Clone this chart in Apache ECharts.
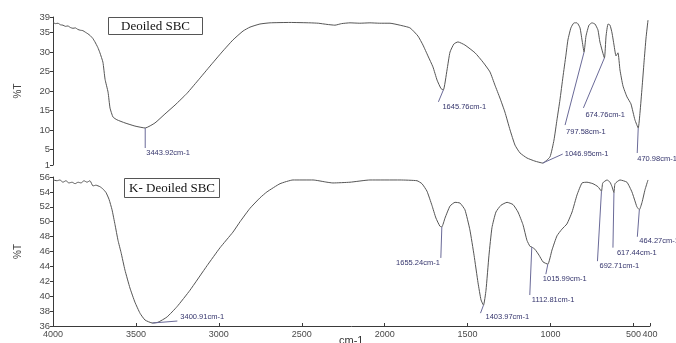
<!DOCTYPE html>
<html>
<head>
<meta charset="utf-8">
<script src="https://cdn.jsdelivr.net/npm/echarts@6/dist/echarts.min.js"></script>
<style>
  html, body { margin: 0; padding: 0; background: #fff; }
  #chart { width: 676px; height: 343px; }
</style>
</head>
<body>
<div id="chart"></div>
<script>
// Wavenumber axis ticks (cm-1) and transmittance ticks (%T)
const xTicks = [4000, 3500, 3000, 2500, 2000, 1500, 1000, 500, 400];
const deoiledTicks = [1, 5, 10, 15, 20, 25, 30, 35, 39];
const kDeoiledTicks = [36, 38, 40, 42, 44, 46, 48, 50, 52, 54, 56];

// FTIR spectrum of Deoiled SBC: [wavenumber, %T]
const deoiledSpectrum = [
  [4000, 37.6], [3985, 37.3], [3970, 37.4], [3955, 37.0], [3940, 36.9], [3925, 36.6],
  [3910, 36.7], [3895, 36.3], [3880, 36.1], [3865, 36.2], [3850, 35.8], [3835, 35.6],
  [3820, 35.5], [3805, 35.1], [3790, 34.7], [3775, 34.2], [3760, 33.5], [3747, 32.6],
  [3730, 31.2], [3717, 29.8], [3699, 27.4], [3686, 23.0], [3668, 19.7], [3656, 15.6],
  [3638, 13.3], [3614, 12.6], [3566, 11.8], [3506, 11.0], [3443.92, 10.5], [3385, 11.8],
  [3325, 14.1], [3264, 16.4], [3192, 19.4], [3114, 23.3], [3053, 26.4], [2981, 30.0],
  [2915, 33.1], [2854, 35.4], [2812, 36.4], [2752, 37.2], [2691, 37.5], [2571, 37.6],
  [2450, 37.5], [2400, 37.4], [2348, 37.1], [2300, 36.9], [2260, 37.3], [2209, 37.5],
  [2150, 37.4], [2089, 37.5], [2030, 37.4], [1968, 37.4], [1908, 36.9], [1847, 36.2],
  [1799, 34.1], [1769, 31.8], [1739, 29.0], [1709, 26.2], [1684, 22.8], [1660, 20.6],
  [1645.76, 20.3], [1624, 25.4], [1606, 30.0], [1582, 32.1], [1558, 32.6], [1516, 31.8],
  [1455, 29.8], [1407, 27.4], [1365, 24.9], [1335, 21.5], [1305, 18.2], [1275, 14.6],
  [1244, 10.0], [1214, 6.1], [1184, 4.1], [1142, 2.8], [1094, 2.0], [1046.95, 1.5],
  [1003, 3.1], [979, 7.4], [961, 12.6], [943, 17.7], [925, 23.6], [907, 29.2],
  [895, 33.1], [877, 36.2], [858, 37.5], [840, 37.5], [822, 36.2], [810, 33.1],
  [797.58, 30.0], [786, 34.1], [768, 36.9], [750, 37.5], [732, 37.2], [714, 35.7],
  [702, 32.6], [674.76, 28.5], [665, 34.1], [653, 37.2], [641, 36.9], [629, 34.9],
  [617, 31.8], [605, 29.0], [593, 29.8], [581, 25.4], [563, 21.3], [539, 18.5],
  [515, 16.7], [491, 12.6], [470.98, 10.5], [460, 14.6], [448, 20.8], [436, 27.4],
  [424, 33.6], [412, 38.2]
];

// FTIR spectrum of K- Deoiled SBC: [wavenumber, %T]
const kDeoiledSpectrum = [
  [4000, 55.6], [3976, 55.5], [3958, 55.6], [3940, 55.3], [3922, 55.5], [3904, 55.2],
  [3885, 55.3], [3867, 55.1], [3849, 55.3], [3831, 55.2], [3813, 55.5], [3795, 55.3],
  [3777, 55.5], [3759, 54.8], [3741, 54.9], [3717, 54.7], [3699, 54.4], [3680, 53.9],
  [3662, 53.0], [3644, 51.6], [3626, 49.6], [3608, 47.5], [3590, 45.9], [3566, 43.5],
  [3536, 41.1], [3506, 39.2], [3475, 37.7], [3445, 36.8], [3400.91, 36.4], [3367, 36.5],
  [3313, 37.2], [3252, 38.6], [3174, 40.8], [3071, 44.1], [2993, 46.5], [2915, 48.6],
  [2872, 50.0], [2812, 51.8], [2752, 53.2], [2710, 54.0], [2631, 55.1], [2553, 55.6],
  [2432, 55.6], [2348, 55.3], [2312, 55.2], [2209, 55.3], [2089, 55.6], [1908, 55.6],
  [1805, 55.5], [1775, 55.1], [1745, 54.1], [1715, 52.2], [1691, 50.5], [1667, 49.4],
  [1655.24, 49.3], [1636, 50.5], [1606, 52.1], [1576, 52.6], [1546, 52.5], [1516, 51.6],
  [1486, 48.9], [1461, 45.5], [1437, 41.8], [1419, 39.5], [1403.97, 38.8], [1389, 40.8],
  [1371, 45.5], [1353, 49.2], [1329, 51.3], [1299, 52.2], [1262, 52.6], [1226, 52.3],
  [1196, 51.3], [1166, 49.6], [1142, 47.5], [1124, 46.7], [1112.81, 46.6], [1094, 46.3],
  [1069, 45.5], [1045, 44.6], [1015.99, 44.3], [991, 46.2], [961, 48.1], [931, 49.0],
  [901, 49.7], [870, 51.3], [840, 53.6], [810, 55.2], [780, 55.3], [744, 55.1],
  [714, 54.7], [692.71, 54.1], [685, 55.2], [659, 55.6], [641, 55.3], [629, 54.7],
  [617.44, 53.9], [611, 55.1], [581, 55.6], [539, 55.3], [509, 54.0], [491, 52.8],
  [479, 52.0], [464.27, 51.6], [448, 52.6], [430, 54.3], [412, 55.6]
];

// Labelled absorption bands (cm-1)
const deoiledPeaks = [3443.92, 1645.76, 1046.95, 797.58, 674.76, 470.98];
const kDeoiledPeaks = [3400.91, 1655.24, 1403.97, 1112.81, 1015.99, 692.71, 617.44, 464.27];

// Leader line offsets (px) from each band minimum and label offsets from the leader end
const deoiledLeaders = [
  { d: [0, 20], t: [1, 5], align: 'left' },
  { d: [-5, 12], t: [4, 5], align: 'left' },
  { d: [20, -9], t: [2, 0], align: 'left' },
  { d: [-19, 73], t: [1, 7], align: 'left' },
  { d: [-21, 50], t: [2, 7], align: 'left' },
  { d: [-1, 25], t: [0, 6], align: 'left' }
];
const kDeoiledLeaders = [
  { d: [25, -2], t: [3, -4], align: 'left' },
  { d: [-1, 31], t: [-1, 5], align: 'right' },
  { d: [-3, 8], t: [5, 4], align: 'left' },
  { d: [-2, 48], t: [2, 5], align: 'left' },
  { d: [-2, 10], t: [-3, 5], align: 'left' },
  { d: [-4, 70], t: [2, 5], align: 'left' },
  { d: [-1, 55], t: [4, 5], align: 'left' },
  { d: [-2, 27], t: [2, 4], align: 'left' }
];

const LINE = '#555555';
const AXIS = '#3a3a3a';
const TICK_TEXT = '#4a4a4a';
const SANS = '"Liberation Sans", Arial, sans-serif';
const SERIF = '"Liberation Serif", "Times New Roman", serif';

function bandValue(spectrum, wn) {
  const hit = spectrum.find(p => p[0] === wn);
  return hit ? hit[1] : null;
}

function xAxisFor(gridIndex, visible) {
  return {
    type: 'value', gridIndex, min: 400, max: 4000, inverse: true,
    show: visible,
    axisLine: { show: visible, lineStyle: { color: AXIS, width: 1 } },
    axisTick: { show: visible, inside: true, length: 3, customValues: xTicks, lineStyle: { color: AXIS } },
    axisLabel: { show: visible, customValues: xTicks, margin: 4, fontFamily: SANS, fontSize: 9,
                 color: TICK_TEXT, formatter: v => String(v) },
    splitLine: { show: false }
  };
}

function yAxisFor(gridIndex, min, max, ticks) {
  return {
    type: 'value', gridIndex, min, max,
    name: '%T', nameLocation: 'middle', nameGap: 30, nameRotate: 90,
    nameTextStyle: { fontFamily: SANS, fontSize: 10, color: '#444' },
    axisLine: { show: true, lineStyle: { color: AXIS, width: 1 } },
    axisTick: { show: true, length: 3, customValues: ticks, lineStyle: { color: AXIS } },
    axisLabel: { customValues: ticks, margin: 3, fontFamily: SANS, fontSize: 9.5, color: TICK_TEXT,
                 formatter: v => String(v) },
    splitLine: { show: false }
  };
}

function spectrumSeries(spectrum, idx) {
  return {
    type: 'line', xAxisIndex: idx, yAxisIndex: idx,
    data: spectrum, showSymbol: false, smooth: 0.15, silent: true,
    lineStyle: { color: LINE, width: 1 }
  };
}

function bandLabels(peaks, spectrum, layout, idx) {
  return {
    type: 'custom', xAxisIndex: idx, yAxisIndex: idx, clip: false, silent: true, z: 5,
    data: peaks.map(w => [w, bandValue(spectrum, w)]),
    renderItem(params, api) {
      const p = api.coord([api.value(0), api.value(1)]);
      const L = layout[params.dataIndex];
      const e = [p[0] + L.d[0], p[1] + L.d[1]];
      return {
        type: 'group',
        children: [
          { type: 'line', shape: { x1: p[0], y1: p[1], x2: e[0], y2: e[1] },
            style: { stroke: '#6a6a98', lineWidth: 1 } },
          { type: 'text', x: e[0] + L.t[0], y: e[1] + L.t[1],
            style: { text: api.value(0).toFixed(2) + 'cm-1', fill: '#34346c',
                     font: '7.5px ' + SANS, align: L.align, verticalAlign: 'middle' } }
        ]
      };
    }
  };
}

function sampleBox(left, top, width, height, text) {
  return {
    type: 'group', left, top,
    children: [
      { type: 'rect', shape: { x: 0, y: 0, width, height },
        style: { fill: '#fff', stroke: '#555', lineWidth: 1 } },
      { type: 'text', x: width / 2, y: height / 2 + 0.5,
        style: { text, fill: '#111', font: '13px ' + SERIF, align: 'center', verticalAlign: 'middle' } }
    ]
  };
}

const chart = echarts.init(document.getElementById('chart'), null, { renderer: 'canvas' });
chart.setOption({
  animation: false,
  backgroundColor: '#fff',
  grid: [
    { left: 53, top: 17, width: 597, height: 148, outerBoundsMode: 'none', containLabel: false },
    { left: 53, top: 177, width: 597, height: 149, outerBoundsMode: 'none', containLabel: false }
  ],
  xAxis: [xAxisFor(0, false), xAxisFor(1, true)],
  yAxis: [yAxisFor(0, 1, 39, deoiledTicks), yAxisFor(1, 36, 56, kDeoiledTicks)],
  series: [
    spectrumSeries(deoiledSpectrum, 0),
    spectrumSeries(kDeoiledSpectrum, 1),
    bandLabels(deoiledPeaks, deoiledSpectrum, deoiledLeaders, 0),
    bandLabels(kDeoiledPeaks, kDeoiledSpectrum, kDeoiledLeaders, 1)
  ],
  graphic: [
    sampleBox(108, 17, 94, 17, 'Deoiled SBC'),
    sampleBox(124, 178, 95, 19, 'K- Deoiled SBC'),
    // wavenumber unit under the shared x axis
    { type: 'text', left: 339, top: 335,
      style: { text: 'cm-1', fill: '#333', font: '11px ' + SANS } }
  ]
});
</script>
</body>
</html>
